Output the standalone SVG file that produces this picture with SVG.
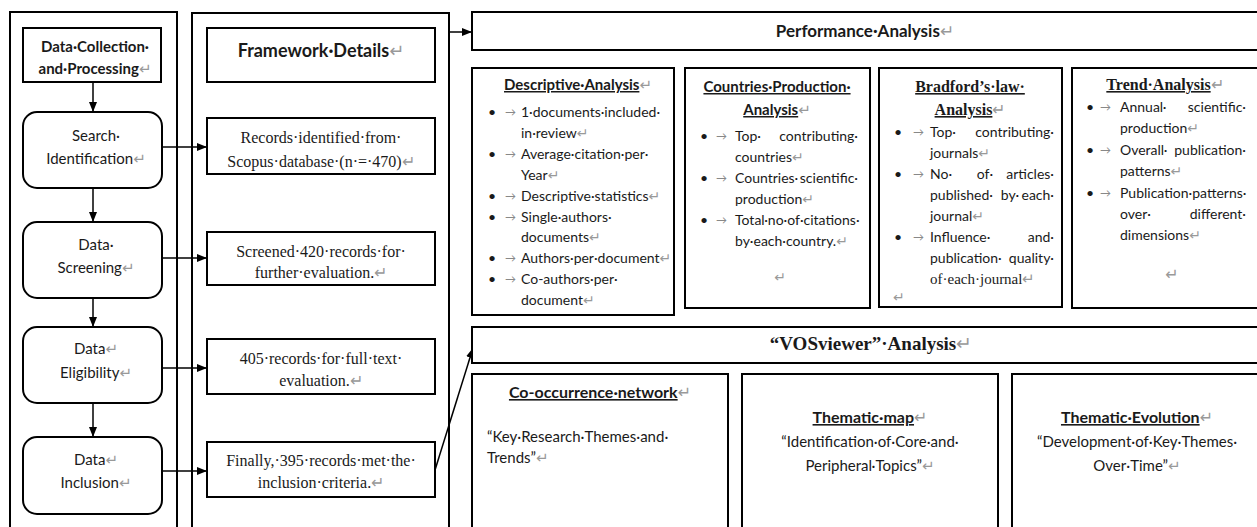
<svg xmlns="http://www.w3.org/2000/svg" width="1257" height="527" viewBox="0 0 1257 527">
<style>
.box{fill:#fff;stroke:#000;stroke-width:2}
.col{fill:none;stroke:#000;stroke-width:2}
.cal{font-family:Lato,"Open Sans","DejaVu Sans",sans-serif;fill:#1a1a1a}
.tms{font-family:"Liberation Serif","Times New Roman",serif;fill:#1a1a1a}
.b{font-weight:bold}
.u{text-decoration:underline}
.m{text-anchor:middle}
.e{text-anchor:end}
.pm{fill:#999;font-weight:normal;text-decoration:none}
.ar{fill:#888;font-size:11px}
.conn line{stroke:#000;stroke-width:1.5;marker-end:url(#ah)}
</style>
<defs>
<marker id="ah" markerWidth="10" markerHeight="8" refX="10" refY="4" orient="auto" markerUnits="userSpaceOnUse">
<path d="M0,0 L10,4 L0,8 z" fill="#000"/>
</marker>
</defs>
<rect width="1257" height="527" fill="#fff"/>

<g id="left-column">
<rect class="col" x="10" y="12" width="167" height="530"/>
</g>
<g id="middle-column">
<rect class="col" x="192" y="13" width="257" height="530"/>
</g>

<g id="connectors" class="conn">
<line x1="93" y1="82" x2="93" y2="112"/>
<line x1="93" y1="188" x2="93" y2="222"/>
<line x1="93" y1="298" x2="93" y2="327"/>
<line x1="93" y1="403" x2="93" y2="437"/>
<line x1="162" y1="147" x2="207" y2="147"/>
<line x1="162" y1="258" x2="207" y2="258"/>
<line x1="162" y1="368" x2="207" y2="368"/>
<line x1="162" y1="471" x2="207" y2="471"/>
<line x1="449" y1="32" x2="472" y2="32"/>
<line x1="435" y1="470" x2="473" y2="348"/>
</g>

<g id="data-collection">
<rect class="box" x="23" y="28" width="138" height="54"/>
<text class="cal b m" x="95" y="52" font-size="15">Data·Collection·</text>
<text class="cal b m" x="95" y="74" font-size="15">and·Processing<tspan class="pm">↵</tspan></text>
</g>
<g id="search-identification">
<rect class="box" x="23" y="112" width="139" height="76" rx="14"/>
<text class="cal m" x="96" y="141" font-size="15">Search·</text>
<text class="cal m" x="96" y="164" font-size="15">Identification<tspan class="pm">↵</tspan></text>
</g>
<g id="data-screening">
<rect class="box" x="23" y="222" width="139" height="76" rx="14"/>
<text class="cal m" x="96" y="250" font-size="15">Data·</text>
<text class="cal m" x="96" y="273" font-size="15">Screening<tspan class="pm">↵</tspan></text>
</g>
<g id="data-eligibility">
<rect class="box" x="23" y="327" width="139" height="76" rx="14"/>
<text class="cal m" x="96" y="354" font-size="15">Data<tspan class="pm">↵</tspan></text>
<text class="cal m" x="96" y="378" font-size="15">Eligibility<tspan class="pm">↵</tspan></text>
</g>
<g id="data-inclusion">
<rect class="box" x="23" y="437" width="139" height="77" rx="14"/>
<text class="cal m" x="96" y="465" font-size="15">Data<tspan class="pm">↵</tspan></text>
<text class="cal m" x="96" y="488" font-size="15">Inclusion<tspan class="pm">↵</tspan></text>
</g>

<g id="framework-details">
<rect class="box" x="207" y="28" width="228" height="54"/>
<text class="cal b m" x="321" y="57" font-size="18">Framework·Details<tspan class="pm">↵</tspan></text>
</g>
<g id="records-identified">
<rect class="box" x="207" y="118" width="228" height="56"/>
<text class="tms m" x="321" y="143" font-size="16">Records·identified·from·</text>
<text class="tms m" x="321" y="167" font-size="16">Scopus·database·(n·=·470)<tspan class="pm">↵</tspan></text>
</g>
<g id="screened-records">
<rect class="box" x="207" y="232" width="228" height="53"/>
<text class="tms m" x="321" y="257" font-size="16">Screened·420·records·for·</text>
<text class="tms m" x="321" y="278" font-size="16">further·evaluation.<tspan class="pm">↵</tspan></text>
</g>
<g id="full-text-records">
<rect class="box" x="207" y="339" width="228" height="55"/>
<text class="tms m" x="321" y="364" font-size="16">405·records·for·full·text·</text>
<text class="tms m" x="321" y="386" font-size="16">evaluation.<tspan class="pm">↵</tspan></text>
</g>
<g id="included-records">
<rect class="box" x="207" y="442" width="228" height="55"/>
<text class="tms m" x="321" y="466" font-size="16">Finally,·395·records·met·the·</text>
<text class="tms m" x="321" y="488" font-size="16">inclusion·criteria.<tspan class="pm">↵</tspan></text>
</g>

<g id="performance-analysis">
<rect class="box" x="472" y="12" width="800" height="38"/>
<text class="cal b m" x="865" y="37" font-size="17">Performance·Analysis<tspan class="pm">↵</tspan></text>
</g>

<g id="descriptive-analysis" font-size="14">
<rect class="box" x="472" y="68" width="202" height="247"/>
<text class="cal b m" x="578" y="90" font-size="15"><tspan class="u">Descriptive·Analysis</tspan><tspan class="pm">↵</tspan></text>
<g class="cal">
<text x="488" y="117">•</text><text class="ar" x="505" y="116">→</text><text x="521" y="117">1·documents·included·</text>
<text x="521" y="138">in·review<tspan class="pm">↵</tspan></text>
<text x="488" y="159">•</text><text class="ar" x="505" y="158">→</text><text x="521" y="159">Average·citation·per·</text>
<text x="521" y="180">Year<tspan class="pm">↵</tspan></text>
<text x="488" y="201">•</text><text class="ar" x="505" y="200">→</text><text x="521" y="201">Descriptive·statistics<tspan class="pm">↵</tspan></text>
<text x="488" y="222">•</text><text class="ar" x="505" y="221">→</text><text x="521" y="222">Single·authors·</text>
<text x="521" y="242">documents<tspan class="pm">↵</tspan></text>
<text x="488" y="263">•</text><text class="ar" x="505" y="262">→</text><text x="521" y="263">Authors·per·document<tspan class="pm">↵</tspan></text>
<text x="488" y="284">•</text><text class="ar" x="505" y="283">→</text><text x="521" y="284">Co-authors·per·</text>
<text x="521" y="305">document<tspan class="pm">↵</tspan></text>
</g>
</g>

<g id="countries-production" font-size="14">
<rect class="box" x="685" y="68" width="185" height="240"/>
<text class="cal b m" x="777" y="92" font-size="15"><tspan class="u">Countries·Production·</tspan></text>
<text class="cal b m" x="777" y="115" font-size="15"><tspan class="u">Analysis</tspan><tspan class="pm">↵</tspan></text>
<g class="cal">
<text x="700" y="141">•</text><text class="ar" x="716" y="140">→</text><text x="735" y="141">Top·</text><text class="e" x="858" y="141">contributing·</text>
<text x="735" y="162">countries<tspan class="pm">↵</tspan></text>
<text x="700" y="183">•</text><text class="ar" x="716" y="182">→</text><text x="735" y="183">Countries·</text><text class="e" x="858" y="183">scientific·</text>
<text x="735" y="204">production<tspan class="pm">↵</tspan></text>
<text x="700" y="225">•</text><text class="ar" x="716" y="224">→</text><text x="735" y="225">Total·no·of·citations·</text>
<text x="735" y="246">by·each·country.<tspan class="pm">↵</tspan></text>
<text class="pm m" x="780" y="282">↵</text>
</g>
</g>

<g id="bradfords-law" font-size="14">
<rect class="box" x="879" y="68" width="183" height="239"/>
<text class="tms b m" x="970" y="92" font-size="16"><tspan class="u">Bradford’s·law·</tspan></text>
<text class="tms b m" x="970" y="115" font-size="16"><tspan class="u">Analysis</tspan><tspan class="pm">↵</tspan></text>
<g class="cal">
<text x="894" y="137">•</text><text class="ar" x="913" y="136">→</text><text x="930" y="137">Top·</text><text class="e" x="1054" y="137">contributing·</text>
<text x="930" y="158">journals<tspan class="pm">↵</tspan></text>
<text x="894" y="179">•</text><text class="ar" x="913" y="178">→</text><text x="930" y="179">No·</text><text class="m" x="985" y="179">of·</text><text class="e" x="1054" y="179">articles·</text>
<text x="930" y="200">published·</text><text class="m" x="1010" y="200">by·</text><text class="e" x="1054" y="200">each·</text>
<text x="930" y="221">journal<tspan class="pm">↵</tspan></text>
<text x="894" y="242">•</text><text class="ar" x="913" y="241">→</text><text x="930" y="242">Influence·</text><text class="e" x="1054" y="242">and·</text>
<text x="930" y="263">publication·</text><text class="e" x="1054" y="263">quality·</text>
<text class="tms" x="930" y="284" font-size="15">of·each·journal<tspan class="pm">↵</tspan></text>
<text class="pm" x="893" y="302">↵</text>
</g>
</g>

<g id="trend-analysis" font-size="14">
<rect class="box" x="1072" y="68" width="200" height="240"/>
<text class="tms b m" x="1165" y="90" font-size="16"><tspan class="u">Trend·Analysis</tspan><tspan class="pm">↵</tspan></text>
<g class="cal">
<text x="1086" y="112">•</text><text class="ar" x="1100" y="111">→</text><text x="1120" y="112">Annual·</text><text class="e" x="1246" y="112">scientific·</text>
<text x="1120" y="133">production<tspan class="pm">↵</tspan></text>
<text x="1086" y="155">•</text><text class="ar" x="1100" y="154">→</text><text x="1120" y="155">Overall·</text><text class="e" x="1246" y="155">publication·</text>
<text x="1120" y="176">patterns<tspan class="pm">↵</tspan></text>
<text x="1086" y="198">•</text><text class="ar" x="1100" y="197">→</text><text x="1120" y="198">Publication·patterns·</text>
<text x="1120" y="219">over·</text><text class="e" x="1246" y="219">different·</text>
<text x="1120" y="240">dimensions<tspan class="pm">↵</tspan></text>
<text class="pm m" x="1172" y="280" font-size="16">↵</text>
</g>
</g>

<g id="vosviewer-analysis">
<rect class="box" x="472" y="327" width="800" height="36"/>
<text class="tms b m" x="871" y="350" font-size="19">“VOSviewer”·Analysis<tspan class="pm">↵</tspan></text>
</g>

<g id="co-occurrence-network">
<rect class="box" x="472" y="374" width="256" height="170"/>
<text class="cal b m" x="600" y="398" font-size="16"><tspan class="u">Co-occurrence·network</tspan><tspan class="pm">↵</tspan></text>
<text class="cal" x="487" y="442" font-size="15">“Key·Research·Themes·and·</text>
<text class="cal" x="487" y="463" font-size="15">Trends”<tspan class="pm">↵</tspan></text>
</g>
<g id="thematic-map">
<rect class="box" x="742" y="374" width="256" height="170"/>
<text class="cal b m" x="870" y="423" font-size="16"><tspan class="u">Thematic·map</tspan><tspan class="pm">↵</tspan></text>
<text class="cal m" x="870" y="447" font-size="15">“Identification·of·Core·and·</text>
<text class="cal m" x="870" y="471" font-size="15">Peripheral·Topics”<tspan class="pm">↵</tspan></text>
</g>
<g id="thematic-evolution">
<rect class="box" x="1012" y="374" width="260" height="170"/>
<text class="cal b m" x="1137" y="423" font-size="16"><tspan class="u">Thematic·Evolution</tspan><tspan class="pm">↵</tspan></text>
<text class="cal m" x="1137" y="447" font-size="15">“Development·of·Key·Themes·</text>
<text class="cal m" x="1137" y="471" font-size="15">Over·Time”<tspan class="pm">↵</tspan></text>
</g>
</svg>
